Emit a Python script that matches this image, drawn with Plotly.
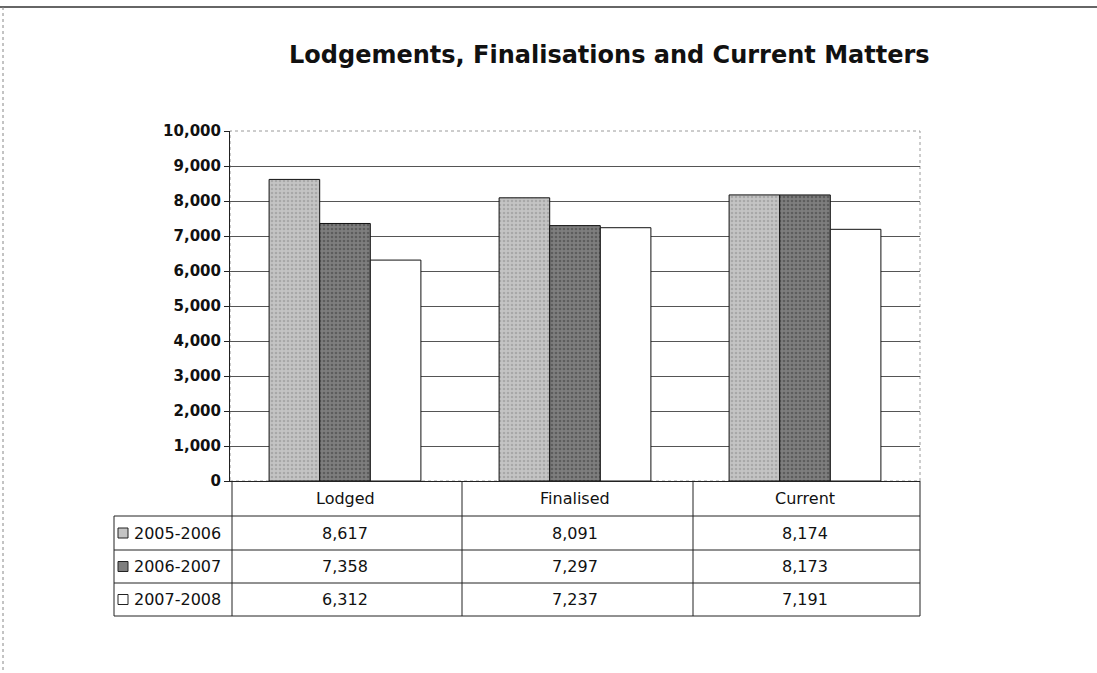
import plotly.graph_objects as go

# ---------------- data ----------------
categories = ["Lodged", "Finalised", "Current"]
series_names = ["2005-2006", "2006-2007", "2007-2008"]
values_2005_2006 = [8617, 8091, 8174]
values_2006_2007 = [7358, 7297, 8173]
values_2007_2008 = [6312, 7237, 7191]
y_tick_values = list(range(0, 10001, 1000))

series_values = [values_2005_2006, values_2006_2007, values_2007_2008]

# ---------------- styling ----------------
W, H = 1097, 673
L, R, T, B = 230, 920, 131, 481          # plot area in pixels
FONT = "DejaVu Sans, Verdana, sans-serif"
bar_fill = ["#c4c4c4", "#7e7e7e", "#ffffff"]
bar_dots = ["#8c8c8c", "#3c3c3c", "#ffffff"]


def px(x):
    return (x - L) / (R - L)


def py(y):
    return (B - y) / (B - T)


fig = go.Figure()
for name, vals, fc, dc in zip(series_names, series_values, bar_fill, bar_dots):
    marker = dict(color=fc, line=dict(color="#111111", width=1))
    if fc != "#ffffff":
        marker["pattern"] = dict(shape=".", fgcolor=dc, bgcolor=fc, size=4, solidity=0.35)
    fig.add_trace(go.Bar(name=name, x=categories, y=vals, marker=marker,
                         showlegend=False, hoverinfo="skip"))

shapes = []
# outer frame lines (top and left)
shapes.append(dict(type="line", xref="paper", yref="paper", x0=px(0), x1=px(W),
                   y0=py(7), y1=py(7), line=dict(color="#333333", width=1.5)))
shapes.append(dict(type="line", xref="paper", yref="paper", x0=px(3), x1=px(3),
                   y0=py(7), y1=py(H), line=dict(color="#888888", width=1, dash="dot")))
# plot area border (faint dotted)
shapes.append(dict(type="rect", xref="paper", yref="paper", x0=0, x1=1, y0=0, y1=1,
                   line=dict(color="#9a9a9a", width=1, dash="dot"), layer="below"))

# table geometry (pixels)
col_edges = [232, 462, 693, 920]
left_edge = 114
header_bottom = 516
row_edges = [516, 550, 583, 616]
line_style = dict(color="#222222", width=1)

for xe in col_edges:
    shapes.append(dict(type="line", xref="paper", yref="paper", x0=px(xe), x1=px(xe),
                       y0=py(B), y1=py(row_edges[-1]), line=line_style))
shapes.append(dict(type="line", xref="paper", yref="paper", x0=px(left_edge), x1=px(left_edge),
                   y0=py(row_edges[0]), y1=py(row_edges[-1]), line=line_style))
for ye in row_edges:
    shapes.append(dict(type="line", xref="paper", yref="paper", x0=px(left_edge), x1=px(col_edges[-1]),
                       y0=py(ye), y1=py(ye), line=line_style))

annotations = []
annotations.append(dict(text="<b>Lodgements, Finalisations and Current Matters</b>",
                        xref="paper", yref="paper", x=px(609), y=py(55),
                        xanchor="center", yanchor="middle", showarrow=False,
                        font=dict(family=FONT, size=24, color="#111111")))
for cat in categories:
    annotations.append(dict(text=cat, xref="x", yref="paper", x=cat,
                            y=py((B + header_bottom) / 2), xanchor="center", yanchor="middle",
                            showarrow=False, font=dict(family=FONT, size=16, color="#111111")))
for i, (name, vals, fc) in enumerate(zip(series_names, series_values, bar_fill)):
    yc = (row_edges[i] + row_edges[i + 1]) / 2
    shapes.append(dict(type="rect", xref="paper", yref="paper", x0=px(118), x1=px(128),
                       y0=py(yc - 5), y1=py(yc + 5), fillcolor=fc,
                       line=dict(color="#222222", width=1)))
    annotations.append(dict(text=name, xref="paper", yref="paper", x=px(132), y=py(yc),
                            xanchor="left", yanchor="middle", showarrow=False,
                            font=dict(family=FONT, size=16, color="#111111")))
    for cat, v in zip(categories, vals):
        annotations.append(dict(text=f"{v:,}", xref="x", yref="paper", x=cat, y=py(yc),
                                xanchor="center", yanchor="middle", showarrow=False,
                                font=dict(family=FONT, size=16, color="#111111")))

fig.update_layout(
    width=W, height=H,
    margin=dict(l=L, r=W - R, t=T, b=H - B, pad=0),
    paper_bgcolor="white", plot_bgcolor="white",
    barmode="group", bargap=0.34, bargroupgap=0,
    shapes=shapes, annotations=annotations,
    hovermode=False,
    xaxis=dict(type="category", range=[-0.5, 2.5], showticklabels=False,
               showgrid=False, zeroline=False, showline=True,
               linecolor="#222222", linewidth=1, ticks=""),
    yaxis=dict(range=[0, 10000], tickvals=y_tick_values, tickformat=",",
               showgrid=True, gridcolor="#555555", gridwidth=1,
               zeroline=False, showline=True, linecolor="#222222", linewidth=1,
               ticks="outside", ticklen=5, tickcolor="#222222",
               tickfont=dict(family=FONT, size=15, color="#111111", weight="bold")),
    font=dict(family=FONT),
)

fig.write_html("out.html", config={"displayModeBar": False},
               post_script="document.body.style.margin='0';")
